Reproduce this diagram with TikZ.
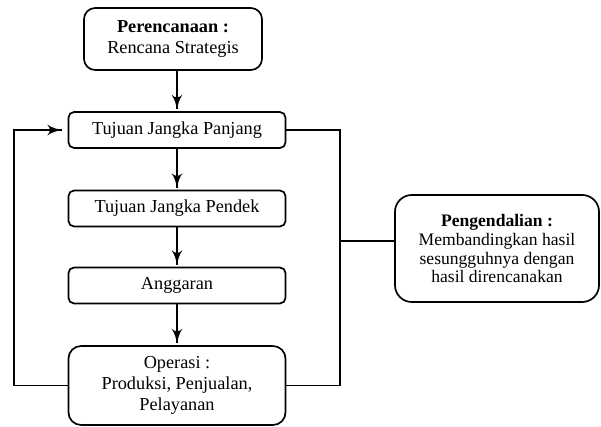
\documentclass[tikz,border=0pt]{standalone}
\usepackage{fontspec}
\setmainfont{Liberation Serif}
\usetikzlibrary{arrows}
\usetikzlibrary{decorations.markings}
\usetikzlibrary{positioning}
\tikzset{box/.style = {draw, line width=1.2pt, rounded corners=4pt,
                       align=center, inner sep=0pt,
                       minimum width=5.425cm, minimum height=0.9cm,
                       font=\fontsize{13}{15}\selectfont}}
\tikzset{flow/.style = {line width=1.2pt,
                        decoration={markings,
                                    mark=at position 1 with {\arrow[scale=1.6]{latex'}}},
                        postaction={decorate}}}
\tikzset{link/.style = {line width=1.2pt}}

\begin{document}
\begin{tikzpicture}[x=0.025cm, y=-0.025cm]
      \useasboundingbox (0, 0) rectangle (601, 427);
      \node [box, minimum width=4.45cm, minimum height=1.55cm, rounded corners=8pt]
            (perencanaan) at (173, 39) {\textbf{Perencanaan :}\\Rencana Strategis};
      \node [box] (panjang) at (177, 130) {Tujuan Jangka Panjang};
      \node [box] (pendek) at (177, 208.5) {Tujuan Jangka Pendek};
      \node [box] (anggaran) at (177, 285.5) {Anggaran};
      \node [box, minimum height=1.975cm, rounded corners=9pt]
            (operasi) at (177, 385.5) {Operasi :\\Produksi, Penjualan,\\Pelayanan};
      \node [box, minimum width=5.1cm, minimum height=2.675cm, rounded corners=12pt,
             font=\fontsize{12.5}{13.5}\selectfont]
            (pengendalian) at (497, 248.5)
            {\textbf{Pengendalian :}\\Membandingkan hasil\\sesungguhnya dengan\\hasil direncanakan};
      \coordinate (left) at (14, 0);
      \coordinate (right) at (340, 0);
      \coordinate (input) at ([xshift=-0.15cm]panjang.west);
      \coordinate (output) at ([yshift=0.19cm]pengendalian.west);
      \draw [flow] (perencanaan.south -| panjang.north) -- ([yshift=0.05cm]panjang.north);
      \draw [flow] (panjang) -- ([yshift=0.05cm]pendek.north);
      \draw [flow] (pendek) -- ([yshift=0.05cm]anggaran.north);
      \draw [flow] (anggaran) -- ([yshift=0.05cm]operasi.north);
      \draw [flow] (operasi.west) -- (operasi.west -| left) |- (input);
      \draw [link] (panjang.east) -- (panjang.east -| right) -- (operasi.east -| right) -- (operasi.east);
      \draw [link] (right |- output) -- (output);
    \end{tikzpicture}
\end{document}
